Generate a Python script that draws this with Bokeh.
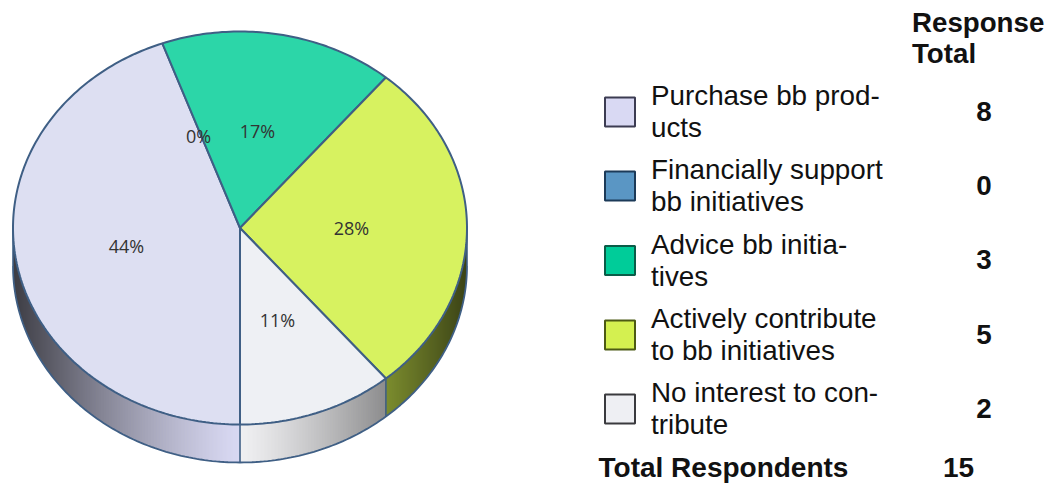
import math
from bokeh.plotting import figure
from bokeh.embed import file_html
from bokeh.resources import INLINE
from bokeh.models import Range1d
from bokeh.core.properties import value

categories = ["Purchase bb products", "Financially support bb initiatives", "Advice bb initiatives",
              "Actively contribute to bb initiatives", "No interest to contribute"]
legend_lines = [["Purchase bb prod-", "ucts"], ["Financially support", "bb initiatives"],
                ["Advice bb initia-", "tives"], ["Actively contribute", "to bb initiatives"],
                ["No interest to con-", "tribute"]]
responses = [8, 0, 3, 5, 2]
percent_labels = ["44%", "0%", "17%", "28%", "11%"]
top_colors = ["#dddff2", "#5a96c4", "#2cd6a8", "#d7f260", "#eef0f4"]
swatch_colors = ["#d9d9f3", "#5a96c4", "#00cc99", "#d4f050", "#eeeff3"]
swatch_edges = ["#3c3c52", "#1c3a58", "#0a5c48", "#4c5a14", "#3a3a3e"]
side_colors = ["#d9d9f3", "#5a96c4", "#00cc99", "#d4f050", "#f0f0f2"]
total_label = "Total Respondents"
total_respondents = 15
header = ["Response", "Total"]

CX, CY, RX, RY, DEPTH = 239.5, 227.5, 227, 196.5, 38
EDGE = "#3f5f85"
W, H = 1048, 485

p = figure(width=W, height=H, output_backend="svg", toolbar_location=None,
           x_range=Range1d(0, W), y_range=Range1d(H, 0), min_border=0)
p.axis.visible = False
p.grid.visible = False
p.outline_line_color = None
p.background_fill_color = "white"
p.border_fill_color = "white"

total = sum(responses)
bounds = [0.0]
for r in responses:
    bounds.append(bounds[-1] + r / total * 2 * math.pi)

def pt(a):
    # angle measured clockwise from straight down on the screen
    return CX - RX * math.sin(a), CY + RY * math.cos(a)

def shade(hex_color, x):
    d = min(1.0, abs(x - CX) / RX)
    f = 1.0 - 0.72 * d ** 1.25
    r, g, b = (int(hex_color[i:i + 2], 16) for i in (1, 3, 5))
    return "#%02x%02x%02x" % (int(r * f), int(g * f), int(b * f))

# the wall of the pie, in overlapping one-pixel columns drawn left to right
xs_list, ys_list, cols = [], [], []
ell = lambda x: CY + RY * math.sqrt(max(0.0, 1 - ((x - CX) / RX) ** 2))
x_left = CX - RX
x_split_1 = pt(bounds[4])[0]
col = int(x_left)
while col < CX + RX:
    xa = max(col, x_left)
    xb = min(col + 2.0, CX + RX)
    mid = col + 0.5
    i = 0 if mid < CX else (4 if mid < x_split_1 else 3)
    xs_list.append([xa, xb, xb, xa])
    ys_list.append([ell(xa), ell(xb), ell(xb) + DEPTH, ell(xa) + DEPTH])
    cols.append(shade(side_colors[i], mid))
    col += 1
p.patches(xs_list, ys_list, fill_color=cols, line_color=None)

# outline of the wall
low = [k * math.pi / 180 for k in range(-90, 91)]
p.line([CX - RX * math.sin(a) for a in low], [CY + RY * math.cos(a) + DEPTH for a in low],
       line_color=EDGE, line_width=1.8)
for x_edge in (CX - RX, CX + RX):
    p.line([x_edge, x_edge], [CY, CY + DEPTH], line_color=EDGE, line_width=1.6)
for a in (bounds[0], bounds[4]):
    x, y = pt(a)
    p.line([x, x], [y, y + DEPTH], line_color=EDGE, line_width=1.6)

# the top of the pie
for i, r in enumerate(responses):
    if r == 0:
        continue
    a0, a1 = bounds[i], bounds[i + 1]
    n = int((a1 - a0) * 60)
    rim = [pt(a0 + (a1 - a0) * k / n) for k in range(n + 1)]
    p.patch([CX] + [q[0] for q in rim], [CY] + [q[1] for q in rim],
            fill_color=top_colors[i], line_color=EDGE, line_width=2)

# percentage labels
label_x = [126, 198, 257, 351, 277]
label_y = [245, 135, 130, 227, 319]
p.text(label_x, label_y, text=percent_labels, text_font=value("Open Sans"), text_font_size="18px",
       text_color="#333333", text_align="center", text_baseline="middle")

# legend
rows = [111.5, 185.5, 260, 334.5, 408.5]
FONT = value("Liberation Sans")
p.rect([619.5] * 5, rows, width=30, height=29, fill_color=swatch_colors,
       line_color=swatch_edges, line_width=2)
p.text([650.5] * 5, [r - 16.5 for r in rows], text=[l[0] for l in legend_lines], text_font=FONT,
       text_font_size="27.8px", text_color="#111111", text_baseline="middle")
p.text([650.5] * 5, [r + 15.5 for r in rows], text=[l[1] for l in legend_lines], text_font=FONT,
       text_font_size="27.8px", text_color="#111111", text_baseline="middle")
p.text([983.5] * 5, [r - 1 for r in rows], text=[str(r) for r in responses], text_font=FONT,
       text_font_size="27.8px", text_font_style="bold", text_color="#111111", text_align="center",
       text_baseline="middle")
p.text([911.5, 911.5], [22, 53], text=header, text_font=FONT, text_font_size="27.7px",
       text_font_style="bold", text_color="#111111", text_baseline="middle")
p.text([598], [467], text=[total_label], text_font=FONT, text_font_size="28px",
       text_font_style="bold", text_color="#111111", text_baseline="middle")
p.text([958], [467], text=[str(total_respondents)], text_font=FONT, text_font_size="28px",
       text_font_style="bold", text_color="#111111", text_align="center", text_baseline="middle")

open("out.html", "w").write(file_html(p, INLINE))
